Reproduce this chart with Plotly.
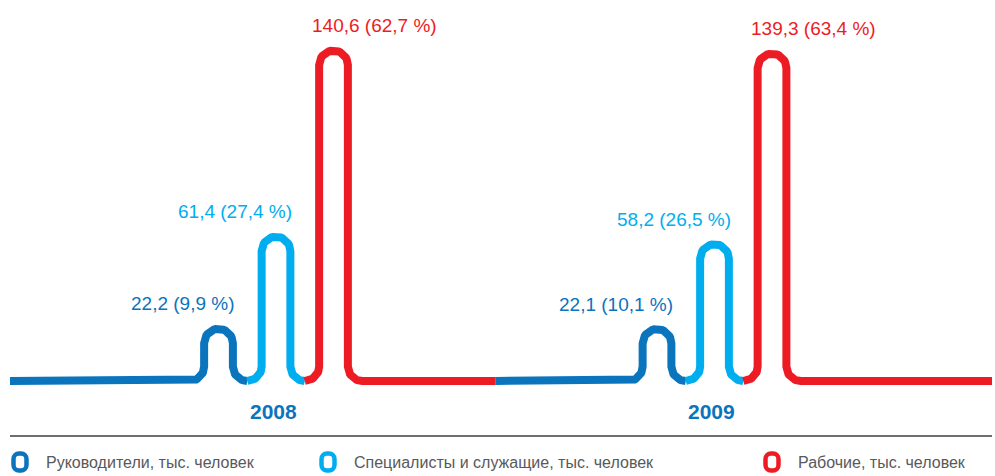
import numpy as np
import plotly.graph_objects as go

years = ["2008", "2009"]
categories = [
    "Руководители, тыс. человек",
    "Специалисты и служащие, тыс. человек",
    "Рабочие, тыс. человек",
]
values_2008 = [22.2, 61.4, 140.6]
shares_2008 = [9.9, 27.4, 62.7]
values_2009 = [22.1, 58.2, 139.3]
shares_2009 = [10.1, 26.5, 63.4]

colors = ["#0a74bd", "#00aeef", "#ed1c24"]
values = [values_2008, values_2009]
shares = [shares_2008, shares_2009]

W, H = 995, 476
BASE_PX = 381          # pixel row of the baseline
SCALE = 2.35           # px per thousand people
PITCH = 57.5           # distance between bumps inside a group
R = PITCH / 4          # corner radius (px)
RY = R / SCALE         # same radius in y units
GROUP_CENTERS = [276, 714.5]
X_START, X_END = 10, 992
FONT = "Liberation Sans, Arial, sans-serif"


def fmt(v):
    return f"{v:.1f}".replace(".", ",")


def arc(cx, cy, a0, a1, n=24):
    t = np.radians(np.linspace(a0, a1, n))
    return list(cx + R * np.cos(t)), list(cy + RY * np.sin(t))


def bump(cx, h, left=None, right=None):
    xs, ys = [], []
    if left is not None:
        xs += [left]
        ys += [0]
    ax, ay = arc(cx - 2 * R, RY, -90, 0)
    xs += ax
    ys += ay
    ax, ay = arc(cx, h - RY, 180, 0)
    xs += ax
    ys += ay
    ax, ay = arc(cx + 2 * R, RY, 180, 270)
    xs += ax
    ys += ay
    if right is not None:
        xs += [right]
        ys += [0]
    return xs, ys


fig = go.Figure()
annotations = []
mid = (GROUP_CENTERS[0] + GROUP_CENTERS[1]) / 2
bounds = [(X_START, mid), (mid, X_END)]

for g, year in enumerate(years):
    gc = GROUP_CENTERS[g]
    for k in range(3):
        cx = gc + (k - 1) * PITCH
        h = values[g][k]
        xs, ys = bump(
            cx,
            h,
            left=bounds[g][0] if k == 0 else None,
            right=bounds[g][1] if k == 2 else None,
        )
        fig.add_trace(
            go.Scatter(
                x=xs,
                y=ys,
                mode="lines",
                line=dict(color=colors[k], width=8),
                hoverinfo="skip",
                showlegend=False,
            )
        )
        text = f"{fmt(h)} ({fmt(shares[g][k])} %)"
        if k < 2:
            ax_x, anchor = cx + R + 4, "right"
        else:
            ax_x, anchor = cx - R - 9, "left"
        annotations.append(
            dict(
                x=ax_x, y=h, xref="x", yref="y", text=text, showarrow=False,
                xanchor=anchor, yanchor="middle", yshift=25,
                font=dict(family=FONT, size=19, color=colors[k]),
            )
        )
    annotations.append(
        dict(
            x=gc - 3, y=0, xref="x", yref="y", text=f"<b>{year}</b>",
            showarrow=False, xanchor="center", yanchor="middle", yshift=-30,
            font=dict(family=FONT, size=21, color="#0a74bd"),
        )
    )


def px_x(px):
    return px / W


def px_y(px):
    return 1 - px / H


def rounded_box(cx, cy, w, h, r):
    # rounded rectangle in pixel units, converted to paper coordinates
    x0, x1, y0, y1 = cx - w / 2, cx + w / 2, cy - h / 2, cy + h / 2
    k = 0.55 * r
    pts = [
        ("M", [(x0 + r, y0)]),
        ("L", [(x1 - r, y0)]),
        ("C", [(x1 - r + k, y0), (x1, y0 + r - k), (x1, y0 + r)]),
        ("L", [(x1, y1 - r)]),
        ("C", [(x1, y1 - r + k), (x1 - r + k, y1), (x1 - r, y1)]),
        ("L", [(x0 + r, y1)]),
        ("C", [(x0 + r - k, y1), (x0, y1 - r + k), (x0, y1 - r)]),
        ("L", [(x0, y0 + r)]),
        ("C", [(x0, y0 + r - k), (x0 + r - k, y0), (x0 + r, y0)]),
    ]
    out = ""
    for cmd, coords in pts:
        out += cmd + " ".join(f"{px_x(a):.5f},{px_y(b):.5f}" for a, b in coords) + " "
    return out + "Z"


shapes = [
    dict(type="line", xref="paper", yref="paper", x0=px_x(10), x1=px_x(992),
         y0=px_y(436), y1=px_y(436), line=dict(color="#6d6e71", width=2)),
]

legend_x = [20, 328, 772]
for k, name in enumerate(categories):
    cx, cy = legend_x[k], 462
    shapes.append(
        dict(type="path", xref="paper", yref="paper",
             path=rounded_box(cx, cy, 13, 17, 5.5),
             line=dict(color=colors[k], width=4.5))
    )
    annotations.append(
        dict(x=px_x(cx + 24), y=px_y(cy), xref="paper", yref="paper", text=name,
             showarrow=False, xanchor="left", yanchor="middle",
             font=dict(family=FONT, size=16, color="#58595b"))
    )

fig.update_layout(
    width=W,
    height=H,
    margin=dict(l=0, r=0, t=0, b=0),
    paper_bgcolor="white",
    plot_bgcolor="white",
    xaxis=dict(range=[0, W], visible=False, fixedrange=True),
    yaxis=dict(range=[-(H - BASE_PX) / SCALE, BASE_PX / SCALE], visible=False,
               fixedrange=True),
    annotations=annotations,
    shapes=shapes,
)

fig.write_html(
    "out.html",
    config={"displayModeBar": False},
    post_script="document.body.style.margin='0';document.body.style.overflow='hidden';",
)
